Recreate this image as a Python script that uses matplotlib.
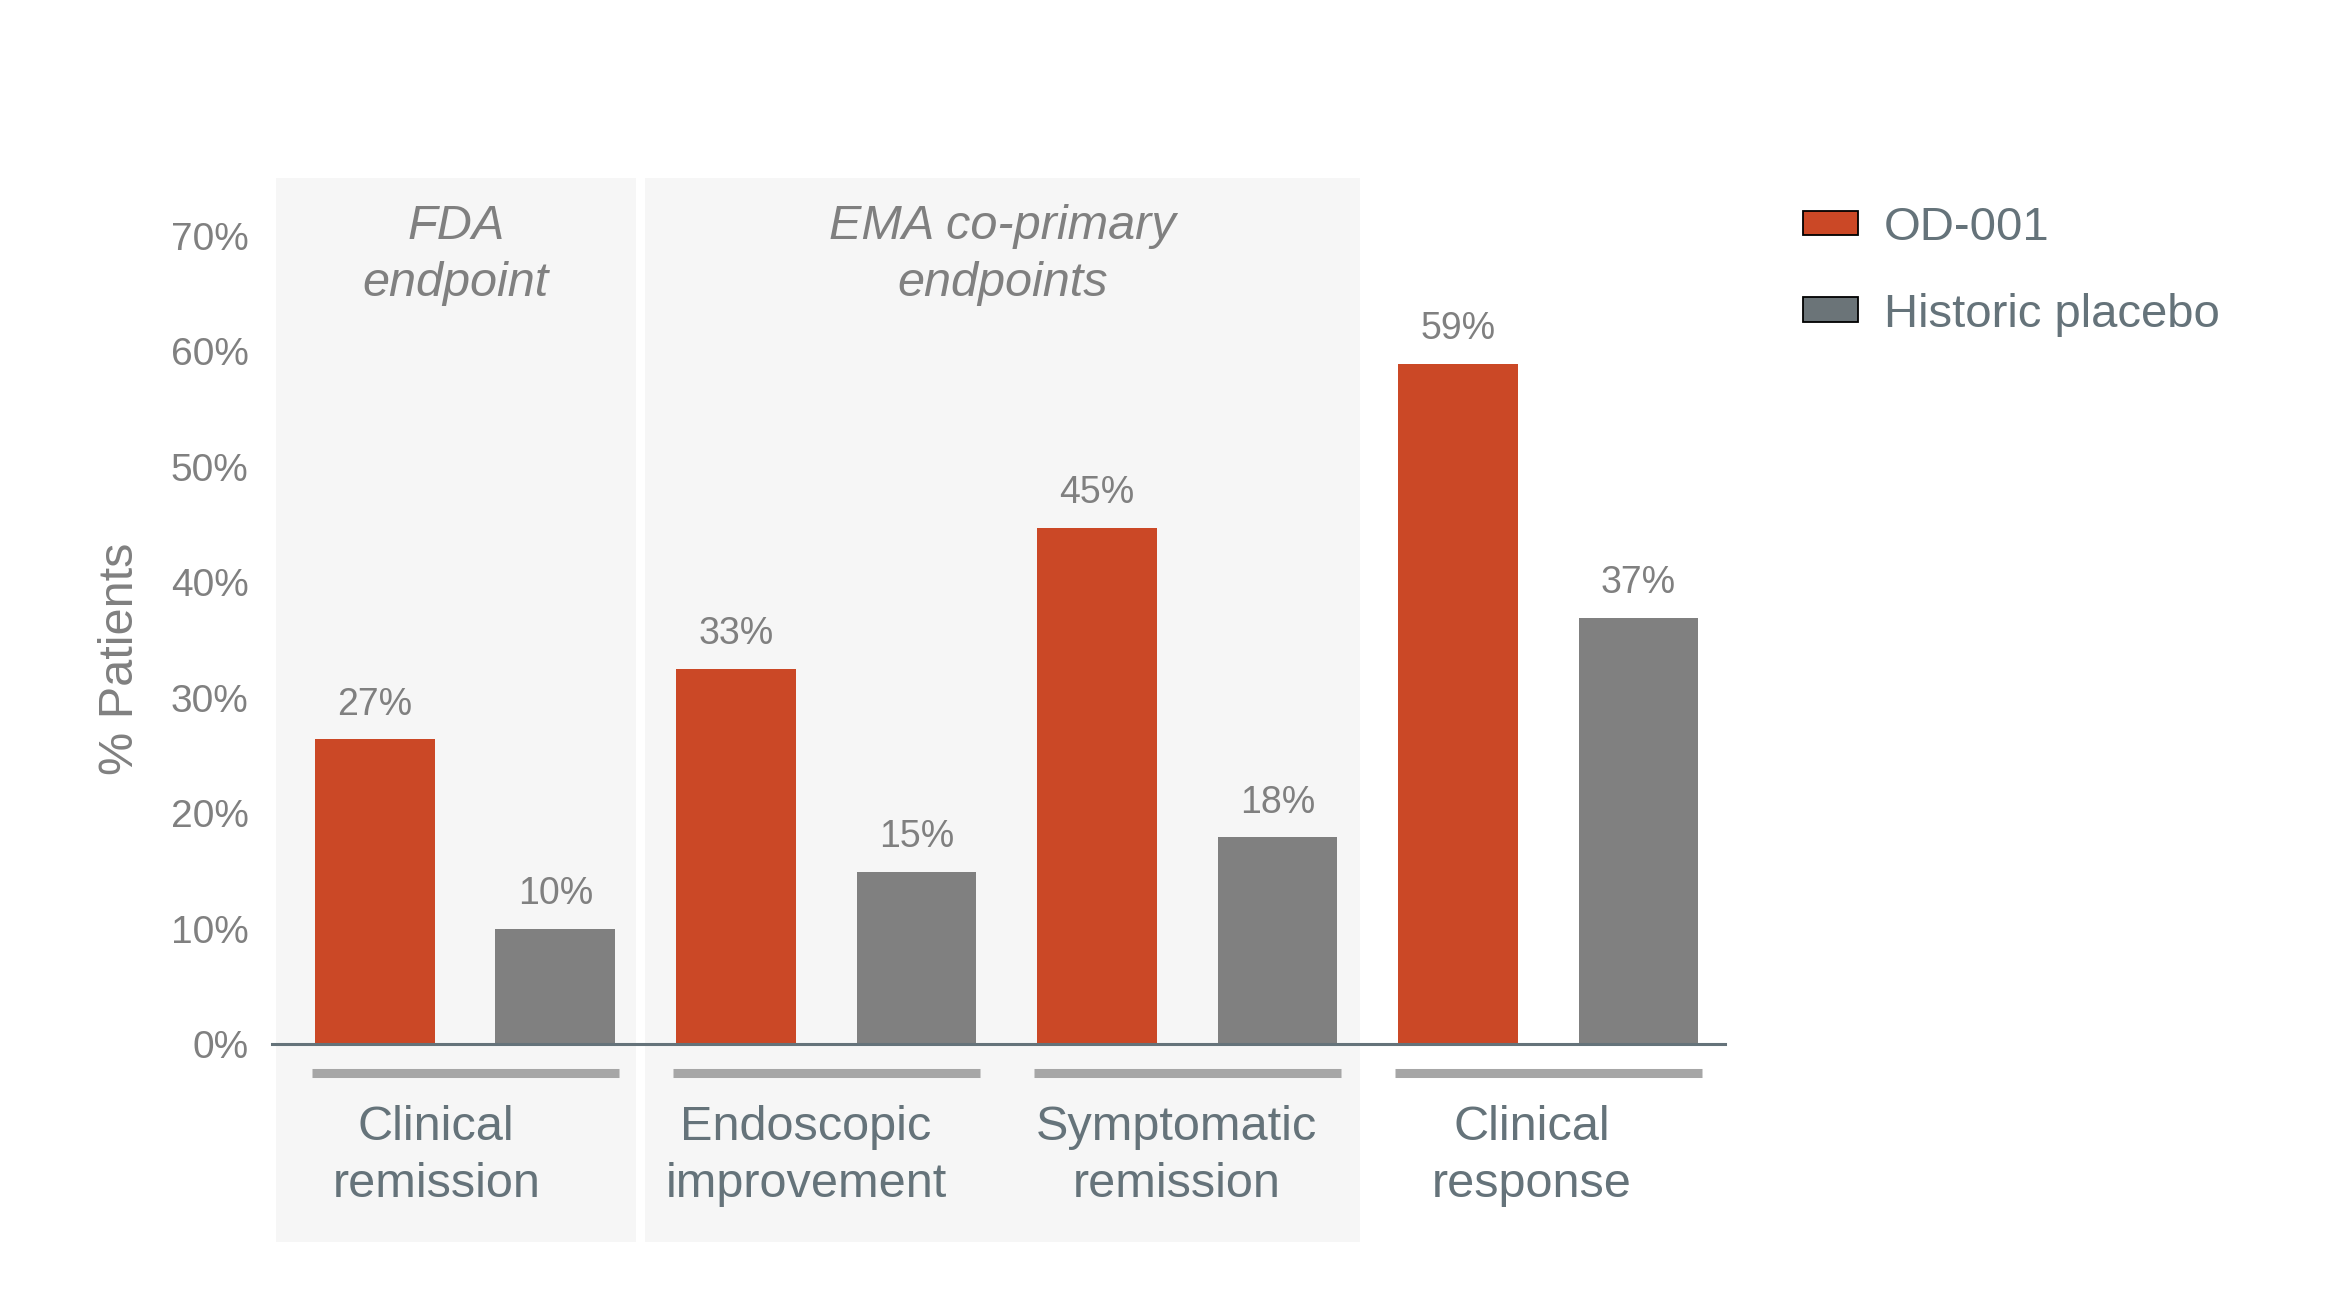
import numpy as np
import matplotlib
matplotlib.use("Agg")
import matplotlib.pyplot as plt
import matplotlib.patches as mpatches

plt.rcParams['font.family'] = ['Liberation Sans', 'DejaVu Sans']

# data
categories = ["Clinical\nremission", "Endoscopic\nimprovement",
              "Symptomatic\nremission", "Clinical\nresponse"]
od001 = [26.4, 32.5, 44.7, 58.9]
placebo = [10.0, 14.9, 17.9, 36.9]
od001_labels = ["27%", "33%", "45%", "59%"]
placebo_labels = ["10%", "15%", "18%", "37%"]
series_names = ["OD-001", "Historic placebo"]
panel_titles = ["FDA\nendpoint", "EMA co-primary\nendpoints"]
yticks = [0, 10, 20, 30, 40, 50, 60, 70]

orange = '#cb4826'
bar_gray = '#808080'
legend_gray = '#6b7478'
slate = '#65737a'
label_gray = '#808080'
panel_bg = '#f6f6f6'

fig = plt.figure(figsize=(23.25, 13.14), dpi=100)
ax = fig.add_axes([0.117, 0.2055, 0.625, 0.659])
ax.set_facecolor('none')

x = np.arange(len(categories))
width = 0.332

# shaded background panels (extend below the axis to cover category labels)
for x0, x1 in [(-0.524, 0.473), (0.498, 2.479)]:
    ax.add_patch(mpatches.Rectangle((x0, -17.16), x1 - x0, 92.2,
                                    facecolor=panel_bg, edgecolor='none',
                                    clip_on=False, zorder=0))

b1 = ax.bar(x - 0.25, od001, width, color=orange, zorder=2)
b2 = ax.bar(x + 0.25, placebo, width, color=bar_gray, zorder=2)

for bars, labels in [(b1, od001_labels), (b2, placebo_labels)]:
    for rect, lab in zip(bars, labels):
        ax.annotate(lab, (rect.get_x() + rect.get_width() / 2, rect.get_height()),
                    xytext=(0, 12), textcoords='offset points',
                    ha='center', va='bottom', fontsize=27, color=label_gray)

# group underline + category labels (labels sit a little left of the group centre)
label_dx = [-0.08, -0.056, -0.03, -0.045]
for xi, cat, dx in zip(x, categories, label_dx):
    ax.plot([xi - 0.425, xi + 0.425], [-2.5, -2.5], color='#a6a6a6', lw=6.5,
            solid_capstyle='butt', clip_on=False, zorder=3)
    ax.text(xi + dx, -5.3, cat, ha='center', va='top', fontsize=35,
            color=slate, linespacing=1.33, clip_on=False)

# panel titles
for xc, title in zip([-0.0255, 1.4885], panel_titles):
    ax.text(xc, 72.75, title, ha='center', va='top', fontsize=35,
            style='italic', color=label_gray, linespacing=1.33)

ax.set_xlim(-0.535, 3.49)
ax.set_ylim(0, 75)
ax.set_yticks(yticks)
ax.set_yticklabels([f"{t}%" for t in yticks])
ax.tick_params(axis='y', length=0, pad=17, labelsize=28, labelcolor=label_gray)
ax.set_xticks([])
for s in ['top', 'right', 'left']:
    ax.spines[s].set_visible(False)
ax.spines['bottom'].set_color(slate)
ax.spines['bottom'].set_linewidth(2.2)
ax.spines['bottom'].set_zorder(2.5)

ax.set_ylabel("% Patients", fontsize=35, color=label_gray, va='center')
ax.yaxis.set_label_coords(-0.1045, 0.445)

handles = [mpatches.Patch(facecolor=orange, edgecolor='black', linewidth=1.3),
           mpatches.Patch(facecolor=legend_gray, edgecolor='black', linewidth=1.3)]
leg = fig.legend(handles, series_names, loc='upper left',
                 bbox_to_anchor=(0.7755, 0.8432), bbox_transform=fig.transFigure,
                 frameon=False, fontsize=34, borderpad=0, borderaxespad=0,
                 handlelength=1.165, handleheight=0.42, handletextpad=0.55,
                 labelspacing=0.9)
for t in leg.get_texts():
    t.set_color(slate)

fig.savefig("out.png", dpi=100, facecolor='white')
